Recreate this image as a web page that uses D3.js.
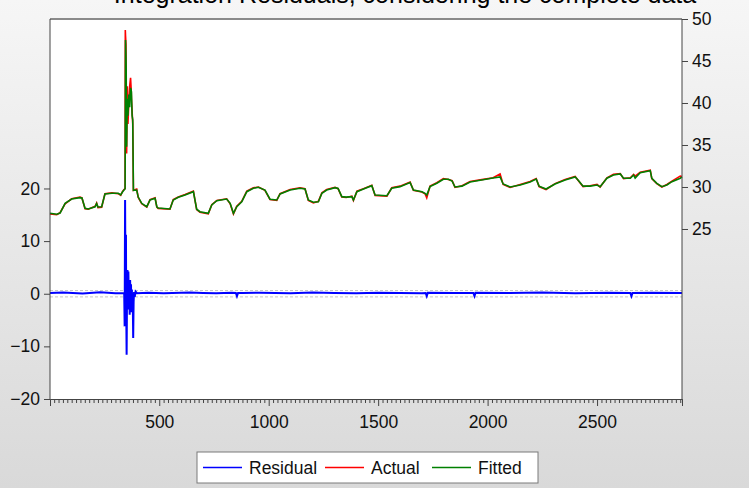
<!DOCTYPE html>
<html>
<head>
<meta charset="utf-8">
<script src="https://cdn.jsdelivr.net/npm/d3@7"></script>
<style>
  html, body { margin: 0; padding: 0; background: #e8e8e8; }
  svg { display: block; font-family: Arial, "Liberation Sans", sans-serif; }
</style>
</head>
<body>
<div id="chart"></div>
<script>
// observation numbers of the traced points (shared by actual and fitted)
const obs = [1, 32, 47, 70, 100, 138, 147, 161, 176, 207, 214, 220, 237, 252, 284, 313, 324, 332, 339,
  344, 345, 346, 348, 349, 351, 354, 357, 361, 365, 369, 372, 373, 376, 379, 382,
  397, 404, 420, 443, 458, 481, 489, 495, 549, 564, 587, 618, 656, 671, 686, 724, 740, 763, 808, 824,
  839, 854, 877, 900, 930, 953, 983, 1006, 1037, 1052, 1098, 1143, 1166, 1181, 1204, 1227, 1243, 1265,
  1303, 1317, 1334, 1354, 1380, 1387, 1403, 1433, 1471, 1486, 1540, 1562, 1600, 1646, 1661, 1700, 1714,
  1722, 1737, 1768, 1798, 1821, 1838, 1851, 1883, 1920, 1966, 2025, 2057, 2071, 2103, 2149, 2194, 2222,
  2235, 2267, 2308, 2354, 2400, 2413, 2436, 2468, 2500, 2514, 2545, 2575, 2606, 2621, 2652, 2667, 2674,
  2697, 2743, 2750, 2773, 2796, 2819, 2842, 2880, 2888];

const fitted = [26.87, 26.75, 26.9, 28.06, 28.57, 28.73, 28.7, 27.46, 27.38, 27.65, 28.04, 27.62, 27.65, 29.17, 29.25, 29.25, 29.05, 29.4, 29.64,
  29.8, 38.0, 47.5, 45.5, 44.0, 34.8, 40.5, 38.5, 41.0, 39.5, 41.8, 41.5, 41.3, 38.5, 38.0, 29.6,
  29.64, 28.8, 28.06, 27.65, 28.45, 28.65, 27.65, 27.5, 27.38, 28.45, 28.77, 29.05, 29.44, 27.35, 27.06, 26.87, 27.86, 28.37, 28.57, 28.06,
  26.87, 27.65, 28.25, 29.44, 29.85, 29.96, 29.64, 28.54, 28.45, 29.17, 29.64, 29.85, 29.76, 28.45, 28.18, 28.25, 29.25, 29.64,
  29.92, 29.82, 28.85, 28.8, 28.85, 28.45, 29.44, 29.76, 30.16, 29.05, 28.96, 29.85, 30.04, 30.52, 29.64, 29.44, 29.25,
  29.05, 30.04, 30.44, 30.92, 30.92, 30.7, 30.0, 30.1, 30.6, 30.8, 31.07, 31.2, 30.36, 30.0, 30.24, 30.6, 30.95,
  30.1, 29.76, 30.36, 30.83, 31.2, 30.83, 30.1, 30.1, 30.24, 30.04, 31.04, 31.43, 31.55, 31.04, 31.04, 31.43, 31.07,
  31.7, 31.94, 31.04, 30.44, 30.04, 30.24, 30.63, 31.04, 31.2];

const actual = [26.8, 26.7, 26.95, 28.0, 28.6, 28.8, 28.7, 27.4, 27.35, 27.7, 28.1, 27.55, 27.6, 29.2, 29.3, 29.2, 29.0, 29.45, 29.7,
  29.8, 48.7, 48.0, 47.0, 40.0, 34.0, 42.0, 37.5, 40.0, 42.0, 43.0, 41.5, 40.5, 39.0, 37.5, 29.6,
  29.75, 28.75, 28.0, 27.6, 28.5, 28.7, 27.6, 27.45, 27.35, 28.5, 28.8, 29.1, 29.5, 27.3, 27.0, 26.8, 27.9, 28.4, 28.6, 28.0,
  26.8, 27.7, 28.3, 29.5, 29.9, 30.0, 29.6, 28.5, 28.4, 29.2, 29.7, 29.9, 29.8, 28.4, 28.1, 28.3, 29.3, 29.7,
  29.95, 29.8, 28.8, 28.75, 28.9, 28.4, 29.5, 29.8, 30.2, 29.0, 28.9, 29.9, 30.1, 30.6, 29.6, 29.4, 29.2,
  28.7, 30.1, 30.5, 31.0, 30.9, 30.75, 29.95, 30.15, 30.65, 30.85, 31.1, 31.55, 30.3, 29.95, 30.3, 30.65, 31.0,
  30.05, 29.7, 30.4, 30.9, 31.25, 30.8, 30.05, 30.15, 30.3, 30.0, 31.1, 31.5, 31.6, 31.0, 31.1, 31.5, 31.3,
  31.75, 32.0, 31.0, 30.4, 30.0, 30.3, 30.7, 31.3, 31.25];

// residual trace
const residObs = [1, 60, 150, 230, 300, 340, 342, 344, 346, 348, 349, 351, 353, 355, 357, 359, 361, 363, 365, 367,
  369, 371, 373, 375, 377, 379, 381, 383, 385, 388, 392, 398, 450, 520, 640, 700, 760, 830, 850, 855, 860, 880,
  960, 1100, 1200, 1300, 1400, 1500, 1600, 1700, 1717, 1722, 1727, 1850, 1935, 1940, 1945, 2100, 2250, 2400, 2550,
  2652, 2657, 2662, 2750, 2888];
const residual = [0.15, 0.25, 0.05, 0.3, 0.1, 0.1, -6.2, 17.8, 0.5, 11.2, -2.0, -11.6, 1.0, 4.5, -3.0, 4.2, -1.5, 2.5, -4.0, 2.6,
  -2.5, 1.8, -3.5, 0.8, -2.5, -1.0, -8.4, -1.5, 0.3, -0.6, 0.4, 0.1, 0.2, 0.1, 0.25, 0.15, 0.1, 0.2, 0.15, -0.45, 0.15, 0.15,
  0.2, 0.1, 0.25, 0.15, 0.1, 0.2, 0.15, 0.1, 0.15, -0.45, 0.2, 0.15, 0.15, -0.45, 0.2, 0.15, 0.25, 0.1, 0.2,
  0.15, -0.45, 0.15, 0.2, 0.15];

const seBand = [-0.6, 0.6];
const leftTicks = [-20, -10, 0, 10, 20];
const rightTicks = [25, 30, 35, 40, 45, 50];
const xTicks = [500, 1000, 1500, 2000, 2500];
const series = [
  { name: 'Residual', color: '#0000ff' },
  { name: 'Actual', color: '#ff0000' },
  { name: 'Fitted', color: '#008000' }
];
const title = 'Integration Residuals, considering the complete data';

const W = 749, H = 488;
const L = 50, R = 682, T = 19, B = 399;

const svg = d3.select('#chart').append('svg')
  .attr('width', W).attr('height', H);

const grad = svg.append('defs').append('linearGradient')
  .attr('id', 'bg').attr('x1', 0).attr('y1', 0).attr('x2', 0).attr('y2', 1);
grad.append('stop').attr('offset', 0).attr('stop-color', '#f6f6f6');
grad.append('stop').attr('offset', 1).attr('stop-color', '#d9d9d9');
svg.append('rect').attr('width', W).attr('height', H).attr('fill', 'url(#bg)');

// title, mostly cut off at the top edge (as in the reference)
svg.append('text')
  .attr('x', 405).attr('y', 3)
  .attr('text-anchor', 'middle')
  .attr('font-size', 25)
  .attr('fill', '#000')
  .text(title);

svg.append('rect')
  .attr('x', L).attr('y', T).attr('width', R - L).attr('height', B - T)
  .attr('fill', '#fff');

const x = d3.scaleLinear().domain([1, 2888]).range([L, R]);
const yL = d3.scaleLinear().domain([-20, 52.2]).range([B, T]);
const yR = d3.scaleLinear().domain([4.76, 50]).range([B, T]);

const plot = svg.append('g');

// +/- band around zero
seBand.forEach(v => {
  plot.append('line')
    .attr('x1', L).attr('x2', R)
    .attr('y1', yL(v)).attr('y2', yL(v))
    .attr('stroke', '#c4c4c4')
    .attr('stroke-width', 1)
    .attr('stroke-dasharray', '3 2');
});

const residLine = d3.line().x((d, i) => x(residObs[i])).y(d => yL(d));
plot.append('path')
  .attr('d', residLine(residual))
  .attr('fill', 'none')
  .attr('stroke', series[0].color)
  .attr('stroke-width', 2);

const rLine = d3.line().x((d, i) => x(obs[i])).y(d => yR(d));
plot.append('path')
  .attr('d', rLine(actual))
  .attr('fill', 'none')
  .attr('stroke', series[1].color)
  .attr('stroke-width', 1.6);
plot.append('path')
  .attr('d', rLine(fitted))
  .attr('fill', 'none')
  .attr('stroke', series[2].color)
  .attr('stroke-width', 1.6);

// frame
svg.append('line').attr('x1', L).attr('x2', R).attr('y1', T).attr('y2', T)
  .attr('stroke', '#8a8a8a').attr('stroke-width', 2);

const fs = 17.5;

const gL = svg.append('g').attr('transform', `translate(${L},0)`)
  .call(d3.axisLeft(yL).tickValues(leftTicks).tickSize(6).tickPadding(4).tickFormat(d3.format('d')));
const gR = svg.append('g').attr('transform', `translate(${R},0)`)
  .call(d3.axisRight(yR).tickValues(rightTicks).tickSize(6).tickPadding(4).tickFormat(d3.format('d')));

const minor = d3.range(20, 2888, 20).filter(v => v % 500 !== 0);
const gBm = svg.append('g').attr('transform', `translate(0,${B})`)
  .call(d3.axisBottom(x).tickValues(minor).tickSize(4).tickFormat(''));
const gB = svg.append('g').attr('transform', `translate(0,${B})`)
  .call(d3.axisBottom(x).tickValues(xTicks).tickSize(7).tickPadding(10).tickFormat(d3.format('d')));

[gL, gR, gB, gBm].forEach(g => {
  g.select('.domain').attr('stroke', '#444').attr('stroke-width', 1);
  g.selectAll('.tick line').attr('stroke', '#444');
  g.selectAll('text').attr('font-size', fs).attr('fill', '#111')
    .attr('font-family', 'Arial, "Liberation Sans", sans-serif');
});
gL.select('.domain').attr('d', `M0,${T}V${B}`);
gR.select('.domain').attr('d', `M0,${T}V${B}`);

// legend
const lg = svg.append('g').attr('transform', 'translate(197,452)');
lg.append('rect').attr('width', 341).attr('height', 31)
  .attr('fill', '#fff').attr('stroke', '#7a7a7a');
const offsets = [6, 128, 235];
series.forEach((s, i) => {
  const g = lg.append('g').attr('transform', `translate(${offsets[i]},15.5)`);
  g.append('line').attr('x1', 0).attr('x2', 39).attr('stroke', s.color).attr('stroke-width', 1.6);
  g.append('text').attr('x', 46).attr('y', 6.5).attr('font-size', fs).attr('fill', '#111').text(s.name);
});
</script>
</body>
</html>
